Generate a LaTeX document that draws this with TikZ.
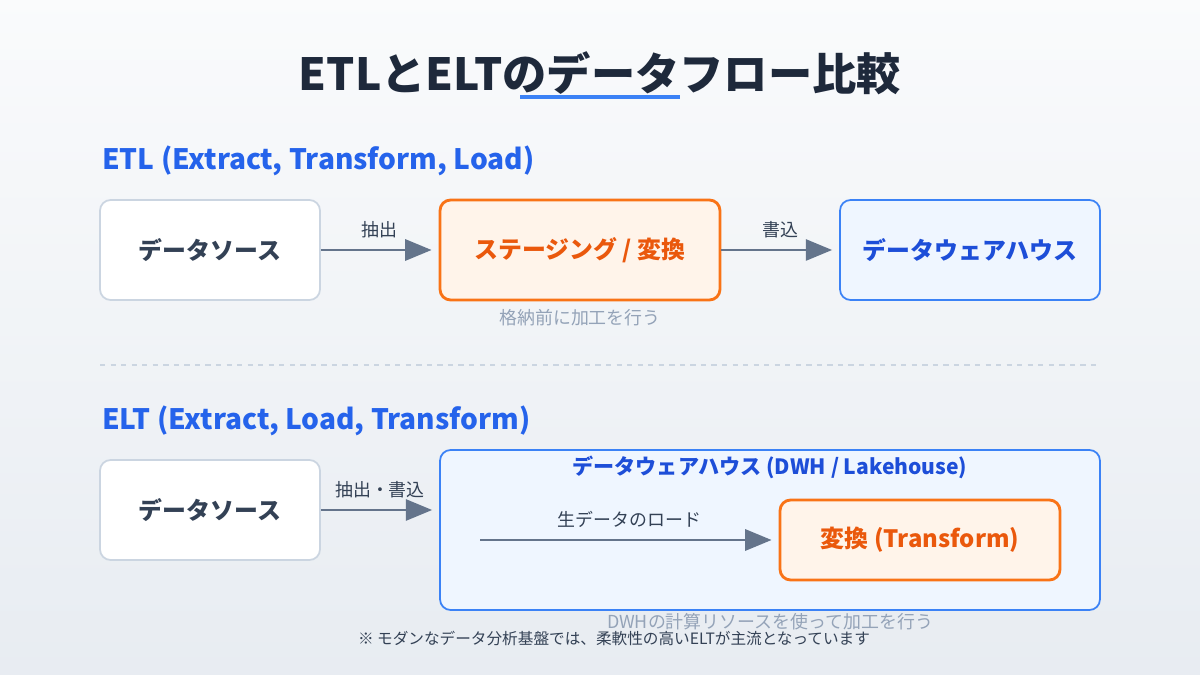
\documentclass[tikz,border=0pt]{standalone}
\usepackage{fontspec}
\setmainfont{Noto Sans CJK JP}
\usetikzlibrary{arrows.meta,positioning}
\definecolor{titre}{HTML}{1E293B}
\definecolor{bleu}{HTML}{2563EB}
\definecolor{bleufonce}{HTML}{1D4ED8}
\definecolor{bleubord}{HTML}{3B82F6}
\definecolor{bleufond}{HTML}{EFF6FF}
\definecolor{orange}{HTML}{F97316}
\definecolor{orangetxt}{HTML}{EA580C}
\definecolor{orangefond}{HTML}{FFF4EA}
\definecolor{gris}{HTML}{64748B}
\definecolor{grisclair}{HTML}{94A3B8}
\definecolor{grisbord}{HTML}{CBD5E1}
\definecolor{ardoise}{HTML}{334155}
\newcommand{\taille}[1]{\fontsize{#1}{#1}\selectfont}
\tikzset{
  boite/.style={draw=grisbord, line width=1pt, rounded corners=6pt, fill=white,
    minimum width=4.4cm, minimum height=2cm, font=\taille{13.6pt}\bfseries, text=ardoise},
  etape/.style={boite, draw=orange, line width=1.6pt, fill=orangefond, text=orangetxt,
    minimum width=5.6cm},
  entrepot/.style={boite, draw=bleubord, fill=bleufond, text=bleufonce, minimum width=5.2cm},
  fleche/.style={-{Triangle[length=15pt,width=12pt]}, draw=gris, line width=1.5pt,
    shorten >=4pt},
  etiquette/.style={font=\taille{10.2pt}, text=ardoise},
  note/.style={font=\taille{10.2pt}, text=grisclair},
  section/.style={font=\taille{16pt}\bfseries, text=bleu, anchor=west}
}
\begin{document}
\begin{tikzpicture}[x=0.02cm,y=-0.02cm]
  % Fond
  \shade[top color=white!60!grisbord!25, bottom color=grisbord!45] (0,0) rectangle (1200,675);
  \useasboundingbox (0,0) rectangle (1200,675);

  % Titre
  \node[font=\taille{25.2pt}\bfseries, text=titre] (titre) at (600,73) {ETLとELTのデータフロー比較};
  \draw[bleubord, line width=2pt] (520,97) -- (680,97);

  % ETL
  \node[section] (etl) at (96,161) {ETL (Extract, Transform, Load)};
  \node[boite] (src1) at (210,250) {データソース};
  \node[etape] (stage) at (580,250) {ステージング / 変換};
  \node[entrepot] (dwh1) at (970,250) {データウェアハウス};
  \draw[fleche] (src1) -- (stage) node[midway, above, etiquette, yshift=3pt] {抽出};
  \draw[fleche] (stage) -- (dwh1) node[midway, above, etiquette, yshift=3pt] {書込};
  \node[note] (note1) at (580,318) {格納前に加工を行う};

  % Séparateur
  \draw[grisbord, dashed, line width=0.8pt] (100,365) -- (1100,365);

  % ELT
  \node[section] (elt) at (96,421) {ELT (Extract, Load, Transform)};
  \node[boite] (src2) at (210,510) {データソース};
  \node[entrepot, minimum width=13.2cm, minimum height=3.2cm] (dwh2) at (770,530) {};
  \node[font=\taille{12pt}\bfseries, text=bleufonce] (dwhtitre) at (770,467) {データウェアハウス (DWH / Lakehouse)};
  \draw[fleche] (src2) -- (src2 -| dwh2.west) node[midway, above, etiquette, yshift=3pt] {抽出・書込};
  \node[etape, minimum height=1.6cm] (transf) at (920,540) {変換 (Transform)};
  \coordinate (depart) at (480,540);
  \draw[fleche] (depart) -- (transf) node[midway, above, etiquette, yshift=3pt] {生データのロード};
  \node[note] (note2) at (770,622) {DWHの計算リソースを使って加工を行う};

  % Remarque
  \node[font=\taille{8.9pt}, text=ardoise] (remarque) at (614,638) {※ モダンなデータ分析基盤では、柔軟性の高いELTが主流となっています};
\end{tikzpicture}
\end{document}
